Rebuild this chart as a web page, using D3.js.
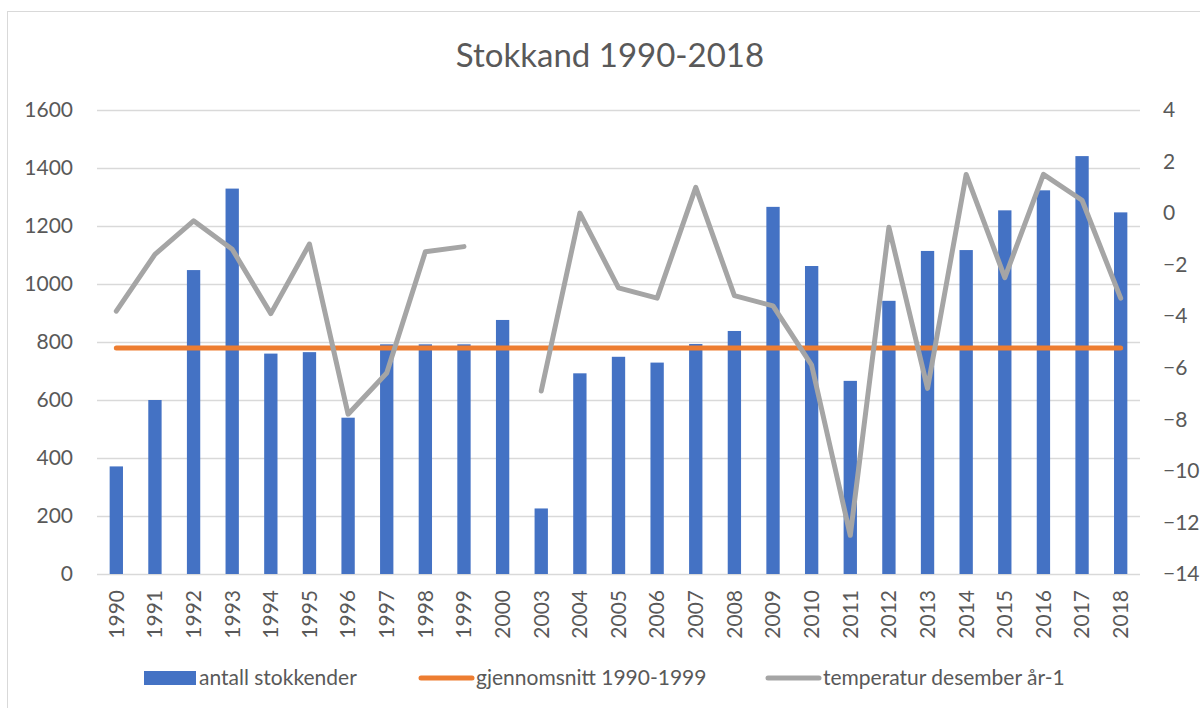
<!DOCTYPE html>
<html>
<head>
<meta charset="utf-8">
<script src="https://cdn.jsdelivr.net/npm/d3@7"></script>
<style>
  body { margin: 0; background: #fff; }
  text { font-family: Lato, "Open Sans", sans-serif; fill: #595959; }
</style>
</head>
<body>
<div id="chart"></div>
<script>
const years = ["1990","1991","1992","1993","1994","1995","1996","1997","1998","1999","2000",
  "2003","2004","2005","2006","2007","2008","2009","2010","2011","2012","2013","2014","2015","2016","2017","2018"];
const antall = [371,600,1048,1329,760,765,539,792,792,792,876,
  226,692,749,729,793,838,1266,1062,666,942,1114,1117,1254,1323,1441,1247];
const snitt = years.map(() => 779);   // gjennomsnitt 1990-1999
const temp = [-3.8,-1.6,-0.3,-1.4,-3.9,-1.2,-7.8,-6.2,-1.5,-1.3,null,
  -6.9,0,-2.9,-3.3,1.0,-3.2,-3.6,-5.9,-12.5,-0.55,-6.8,1.5,-2.5,1.5,0.5,-3.3];
const leftTicks = [0,200,400,600,800,1000,1200,1400,1600];
const rightTicks = [-14,-12,-10,-8,-6,-4,-2,0,2,4];

const W = 1200, H = 708;
const margin = {top: 110, right: 60, bottom: 134, left: 97};
const width = 1140 - margin.left, height = 574 - margin.top;
const fs = "21px";

const root = d3.select("#chart").append("svg")
    .attr("width", W).attr("height", H);

// chart frame
root.append("rect")
    .attr("x", 7.5).attr("y", 11.5)
    .attr("width", 1300).attr("height", 900)
    .attr("fill", "none").attr("stroke", "#d9d9d9");

root.append("text")
    .attr("x", 610).attr("y", 67)
    .attr("text-anchor", "middle")
    .style("font-size", "33px")
    .text("Stokkand 1990-2018");

const svg = root.append("g")
    .attr("transform", `translate(${margin.left},${margin.top})`);

const x = d3.scaleBand().domain(years).range([0, width])
    .paddingInner(0.655).paddingOuter(0.3275);
const y = d3.scaleLinear().domain([0, 1600]).range([height, 0]);
const y2 = d3.scaleLinear().domain([-14, 4]).range([height, 0]);
const cx = d => x(d) + x.bandwidth() / 2;

// gridlines
svg.append("g").selectAll("line")
  .data(leftTicks)
  .join("line")
    .attr("x1", 0).attr("x2", width)
    .attr("y1", d => Math.round(y(d)) + 0.5).attr("y2", d => Math.round(y(d)) + 0.5)
    .attr("stroke", "#d9d9d9").attr("stroke-width", 1.3);

// left axis
svg.append("g")
    .call(d3.axisLeft(y).tickValues(leftTicks).tickFormat(d3.format("d")).tickSize(0).tickPadding(24))
    .call(g => g.select(".domain").remove())
    .selectAll("text").style("font-size", fs).attr("fill", "#595959");

// right axis
svg.append("g")
    .attr("transform", `translate(${width},0)`)
    .call(d3.axisRight(y2).tickValues(rightTicks).tickFormat(d3.format("d")).tickSize(0).tickPadding(23))
    .call(g => g.select(".domain").remove())
    .selectAll("text").style("font-size", fs).attr("fill", "#595959");

// x axis
svg.append("g")
    .attr("transform", `translate(0,${height})`)
    .call(d3.axisBottom(x).tickSize(0))
    .call(g => g.select(".domain").remove())
    .selectAll("text")
      .style("font-size", fs).attr("fill", "#595959")
      .attr("text-anchor", "end")
      .attr("transform", "rotate(-90)")
      .attr("x", -16).attr("y", 0).attr("dy", "0.35em");

// bars
svg.append("g").selectAll("rect")
  .data(years)
  .join("rect")
    .attr("x", d => x(d))
    .attr("y", (d, i) => y(antall[i]))
    .attr("width", x.bandwidth())
    .attr("height", (d, i) => height - y(antall[i]))
    .attr("fill", "#4472c4");

// average line
svg.append("path")
    .datum(years)
    .attr("fill", "none")
    .attr("stroke", "#ed7d31").attr("stroke-width", 5)
    .attr("stroke-linecap", "round")
    .attr("d", d3.line().x(d => cx(d)).y((d, i) => y(snitt[i])));

// temperature line
svg.append("path")
    .datum(years)
    .attr("fill", "none")
    .attr("stroke", "#a5a5a5").attr("stroke-width", 5)
    .attr("stroke-linecap", "round").attr("stroke-linejoin", "round")
    .attr("d", d3.line()
      .defined((d, i) => temp[i] !== null)
      .x(d => cx(d)).y((d, i) => y2(temp[i])));

// legend
const legend = root.append("g").attr("transform", "translate(0,678)");
legend.append("rect").attr("x", 144).attr("y", -7).attr("width", 52).attr("height", 14).attr("fill", "#4472c4");
legend.append("text").attr("x", 199).attr("y", 7).style("font-size", fs).text("antall stokkender");
legend.append("line").attr("x1", 421).attr("x2", 472).attr("y1", 0).attr("y2", 0)
    .attr("stroke", "#ed7d31").attr("stroke-width", 5).attr("stroke-linecap", "round");
legend.append("text").attr("x", 476).attr("y", 7).style("font-size", fs).text("gjennomsnitt 1990-1999");
legend.append("line").attr("x1", 768).attr("x2", 819).attr("y1", 0).attr("y2", 0)
    .attr("stroke", "#a5a5a5").attr("stroke-width", 5).attr("stroke-linecap", "round");
legend.append("text").attr("x", 823).attr("y", 7).style("font-size", fs).text("temperatur desember år-1");
</script>
</body>
</html>
